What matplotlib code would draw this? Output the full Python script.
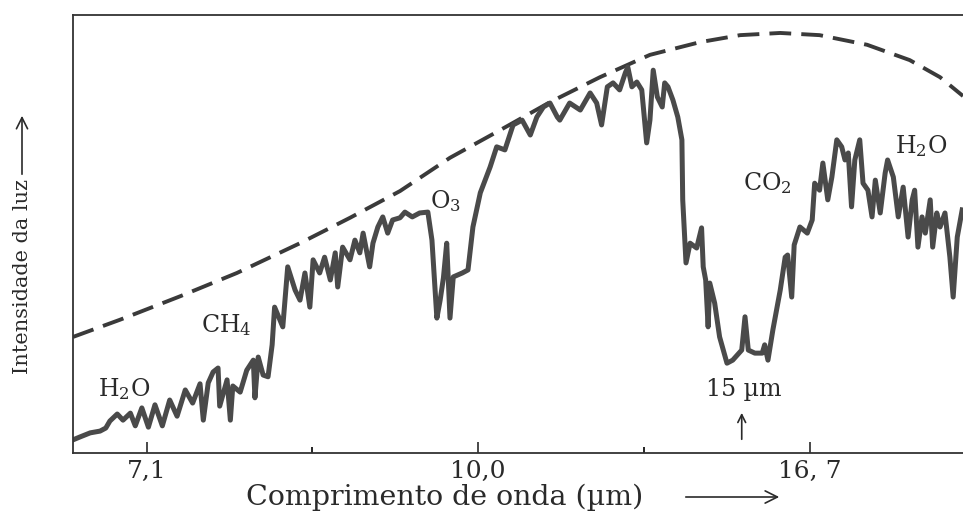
import matplotlib
matplotlib.use("Agg")
from matplotlib import pyplot as plt

# espectro de emissao terrestre (numero de onda em cm^-1, intensidade relativa)
wavenumber = [1494, 1485, 1473, 1461, 1454, 1449, 1440, 1433, 1424, 1418, 1410, 1402,
              1394, 1385, 1376, 1367, 1357, 1348, 1339, 1335, 1329, 1323, 1317, 1315,
              1306, 1302, 1299, 1290, 1282, 1274, 1272, 1268, 1262, 1256, 1251, 1248,
              1238, 1232, 1223, 1217, 1211, 1205, 1201, 1193, 1187, 1180, 1174, 1171,
              1165, 1156, 1150, 1144, 1140, 1132, 1128, 1122, 1116, 1110, 1104, 1095,
              1089, 1080, 1071, 1061, 1056, 1050, 1046, 1042, 1038, 1034, 1030, 1019,
              1012, 1006, 997, 985, 977, 967, 957, 946, 936, 928, 920, 912,
              903, 900, 888, 875, 863, 855, 849, 842, 835, 827, 820, 817,
              812, 806, 800, 794, 790, 786, 781, 775, 772, 768, 762, 756,
              751, 750, 746, 741, 733, 727, 725, 722, 719, 717, 711, 705,
              696, 689, 678, 674, 670, 662, 653, 650, 646, 640, 631, 625,
              622, 617, 614, 607, 598, 592, 589, 583, 579, 573, 568, 562,
              556, 552, 548, 544, 540, 534, 530, 524, 519, 515, 509, 503,
              500, 493, 487, 481, 475, 470, 467, 463, 458, 454, 448, 445,
              440, 436, 430, 424, 420, 415, 409]
intensity = [3.0, 3.7, 4.6, 5.0, 5.7, 7.3, 8.9, 7.5, 9.1, 6.2, 10.3, 5.9,
             11.0, 6.2, 12.1, 8.4, 14.4, 11.4, 15.8, 7.5, 16.0, 18.5, 19.4, 10.7,
             16.7, 7.5, 15.3, 13.9, 18.9, 21.2, 12.6, 21.9, 17.8, 17.4, 24.7, 33.3,
             28.8, 42.5, 37.2, 34.9, 41.1, 33.3, 44.1, 41.1, 44.7, 39.5, 45.7, 37.9,
             47.0, 44.1, 48.6, 45.7, 50.2, 42.5, 47.9, 51.6, 53.9, 50.2, 53.2, 53.7,
             55.0, 53.9, 54.8, 55.0, 48.6, 30.8, 34.9, 40.0, 47.9, 30.8, 40.2, 41.1,
             41.8, 51.6, 59.4, 65.3, 69.9, 69.2, 74.9, 76.0, 72.6, 76.7, 79.0, 79.9,
             76.7, 76.0, 79.9, 78.3, 82.2, 79.9, 74.9, 83.6, 84.5, 82.9, 86.8, 88.1,
             83.6, 84.7, 82.9, 70.8, 76.0, 87.4, 81.3, 79.0, 84.5, 83.6, 80.6, 76.7,
             71.5, 57.8, 43.4, 47.9, 46.8, 51.4, 42.5, 39.5, 28.8, 38.8, 34.2, 26.5,
             20.5, 21.2, 23.5, 31.1, 23.5, 22.8, 22.8, 24.7, 21.2, 28.1, 37.2, 44.7,
             45.2, 35.6, 47.5, 51.6, 50.2, 53.2, 61.6, 60.0, 66.2, 57.8, 63.0, 71.5,
             69.9, 66.9, 68.5, 56.2, 66.9, 71.5, 61.6, 60.0, 53.9, 62.3, 54.8, 63.9,
             66.9, 63.0, 53.9, 60.7, 49.3, 57.8, 60.0, 47.0, 53.9, 50.2, 57.8, 47.0,
             54.8, 51.6, 54.8, 44.7, 35.6, 49.3, 55.5]

# curva do corpo negro (tracejada)
bb_wavenumber = [1494, 1437, 1363, 1294, 1217, 1156, 1095, 1034, 973, 912,
                 851, 790, 729, 680, 631, 583, 525, 473, 436, 408]
bb_intensity = [26.5, 30.4, 35.8, 41.1, 47.9, 53.7, 59.8, 67.4, 73.7, 80.1,
                85.8, 90.9, 93.8, 95.4, 95.9, 95.4, 93.2, 89.7, 85.8, 81.5]

tick_pos = [1404, 1000, 595]
tick_labels = ["7,1", "10,0", "16, 7"]
minor_pos = [1202, 797]

labels = ["H$_2$O", "CH$_4$", "O$_3$", "CO$_2$", "H$_2$O"]
label_x = [1432, 1307, 1040, 647, 491]
label_y = [14.6, 29.2, 57.5, 61.6, 70.1]

plt.rcParams['font.family'] = ['DejaVu Serif']
plt.rcParams['mathtext.fontset'] = 'custom'
plt.rcParams['mathtext.rm'] = 'DejaVu Serif'
plt.rcParams['mathtext.it'] = 'DejaVu Serif'

ink = '#2a2a2a'
fig = plt.figure(figsize=(9.63, 5.16), dpi=100)
ax = fig.add_axes([73 / 963, 63 / 516, 890 / 963, 438 / 516])

ax.plot(bb_wavenumber, bb_intensity, color='#3a3a3a', lw=2.8,
        dashes=(5.6, 2.6), dash_capstyle='butt')
ax.plot(wavenumber, intensity, color='#4a4a4a', lw=3.6, solid_joinstyle='round')

ax.set_xlim(1494, 408)
ax.set_ylim(0, 100)

ax.spines['right'].set_visible(False)
for s in ['left', 'bottom', 'top']:
    ax.spines[s].set_linewidth(1.3)
    ax.spines[s].set_color('#333333')

ax.set_xticks(tick_pos)
ax.set_xticklabels(tick_labels)
ax.set_xticks(minor_pos, minor=True)
ax.set_yticks([])
ax.tick_params(axis='x', which='major', direction='in', length=8, width=1.2,
               pad=5, labelsize=18, colors=ink)
ax.tick_params(axis='x', which='minor', direction='in', length=4.5, width=1.2)

for txt, x, y in zip(labels, label_x, label_y):
    ha = 'left' if x < 500 else 'center'
    ax.text(x, y, txt, fontsize=17, color=ink, ha=ha, va='center', clip_on=False)

ax.text(675, 14.4, "15 µm", fontsize=17, color=ink, ha='center', va='center')
ax.annotate("", xy=(678, 9.8), xytext=(678, 2.5),
            arrowprops=dict(arrowstyle='->', lw=1.2, color=ink, mutation_scale=14))

# rotulos dos eixos com setas
fig.text(445 / 963, 1 - 497 / 516, "Comprimento de onda (µm)", fontsize=20.5,
         color=ink, ha='center', va='center')
ax.annotate("", xy=(782, 19), xytext=(683, 19), xycoords='figure pixels',
            textcoords='figure pixels',
            arrowprops=dict(arrowstyle='->', lw=1.2, color=ink, mutation_scale=22))

fig.text(22 / 963, 1 - 277 / 516, "Intensidade da luz", fontsize=15,
         color=ink, ha='center', va='center', rotation=90)
ax.annotate("", xy=(22, 516 - 113), xytext=(22, 516 - 177), xycoords='figure pixels',
            textcoords='figure pixels',
            arrowprops=dict(arrowstyle='->', lw=1.2, color=ink, mutation_scale=20))

fig.savefig("out.png", dpi=100)
